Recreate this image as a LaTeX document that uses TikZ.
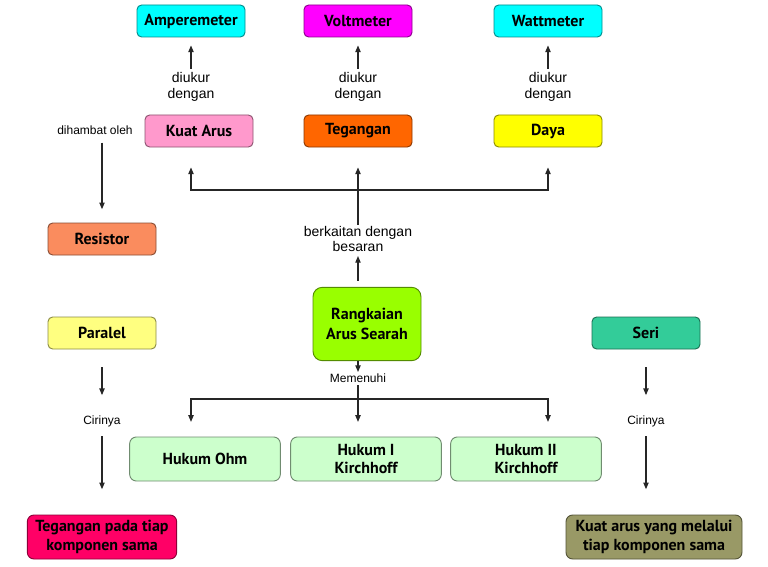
\documentclass[tikz,border=0pt]{standalone}
\usepackage{fontspec}
\setmainfont{Liberation Sans}
\newfontfamily\boxfont{PT Sans}
\usetikzlibrary{arrows.meta,positioning}
\definecolor{cyanbox}{HTML}{00FFFF}
\definecolor{magbox}{HTML}{FF00FF}
\definecolor{pinkbox}{HTML}{FF99CC}
\definecolor{orangebox}{HTML}{FF6600}
\definecolor{yellowbox}{HTML}{FFFF00}
\definecolor{resbox}{HTML}{FA8C5E}
\definecolor{parbox}{HTML}{FFFF80}
\definecolor{limebox}{HTML}{99FF00}
\definecolor{lawbox}{HTML}{CCFFCC}
\definecolor{seribox}{HTML}{33CC99}
\definecolor{crimsonbox}{HTML}{FF0066}
\definecolor{olivebox}{HTML}{999966}

\begin{document}
\begin{tikzpicture}[x=0.75pt,y=-0.75pt,
          every node/.style={font=\small},
          concept/.style={draw=#1!55!black,fill=#1,rounded corners=3.5pt,
                          line width=0.7pt,minimum width=81pt,minimum height=24pt,
                          inner sep=2pt,align=center,text=black,
                          font=\boxfont\bfseries\fontsize{12}{14}\selectfont},
          law/.style={minimum width=113pt,minimum height=33pt,rounded corners=5pt},
          lbl/.style={inner sep=0pt,align=center,font=\fontsize{10.5}{11.5}\selectfont},
          arr/.style={-{Triangle[length=5pt,width=4pt]},line width=0.8pt,black!85},
          link/.style={line width=0.8pt,black!85},
      ]
        \useasboundingbox[fill=white] (0,0) rectangle (768,567);

        % meters
        \node[concept=cyanbox] (amp) at (191,21) {Amperemeter};
        \node[concept=magbox] (volt) at (358,21) {Voltmeter};
        \node[concept=cyanbox] (watt) at (548,21) {Wattmeter};

        \node[lbl] (ukur1) at (191,87) {diukur\\dengan};
        \node[lbl] (ukur2) at (358,87) {diukur\\dengan};
        \node[lbl] (ukur3) at (548,87) {diukur\\dengan};

        % quantities
        \node[concept=pinkbox] (kuat) at (199,131) {Kuat Arus};
        \node[concept=orangebox] (tegangan) at (358,131) {Tegangan};
        \node[concept=yellowbox] (daya) at (548,131) {Daya};

        \draw[arr,shorten <=3pt,shorten >=6pt] (ukur1) -- (amp);
        \draw[arr,shorten <=3pt,shorten >=6pt] (ukur2) -- (volt);
        \draw[arr,shorten <=3pt,shorten >=6pt] (ukur3) -- (watt);

        % resistor
        \node[lbl,font=\fontsize{9}{11}\selectfont] (hambat) at (95,130) {dihambat oleh};
        \node[concept=resbox] (resistor) at (102,239) {Resistor};
        \draw[arr,shorten <=6pt,shorten >=10pt] (hambat.south -| resistor) -- (resistor.north);

        % main concept
        \node[concept=limebox,rounded corners=7pt,minimum height=55pt,
              font=\boxfont\bfseries\fontsize{12}{15}\selectfont] (dc) at (367,324)
          {Rangkaian\\Arus Searah};
        \node[lbl] (kait) at (358,239) {berkaitan dengan\\besaran};
        \draw[arr,shorten <=4.5pt,shorten >=3pt] (dc.north -| kait) -- (kait.south);
        \draw[arr,shorten <=1pt,shorten >=15pt] (kait.north) -- (tegangan.south);
        \coordinate (busup) at (358,190);
        \draw[arr,shorten >=15pt] (busup) -| (kuat.south -| amp);
        \draw[arr,shorten >=15pt] (busup) -| (daya.south);

        % laws
        \node[lbl,font=\fontsize{9}{11}\selectfont] (penuh) at (358,378) {Memenuhi};
        \draw[arr,shorten >=1pt] (dc.south -| penuh) -- (penuh.north);
        \node[concept=lawbox,law] (ohm) at (205,459) {Hukum Ohm};
        \node[concept=lawbox,law] (kir1) at (366,459) {Hukum I\\Kirchhoff};
        \node[concept=lawbox,law] (kir2) at (526,459) {Hukum II\\Kirchhoff};
        \coordinate (busdown) at (358,399);
        \draw[link,shorten <=2pt] (penuh.south) -- (busdown);
        \draw[arr,shorten >=11pt] (busdown) -| (ohm.north -| amp);
        \draw[arr,shorten >=11pt] (busdown) -- (kir1.north -| busdown);
        \draw[arr,shorten >=11pt] (busdown) -| (kir2.north -| watt);

        % parallel
        \node[concept=parbox] (paralel) at (102,333) {Paralel};
        \node[lbl,font=\fontsize{9}{11}\selectfont] (ciri1) at (102,421) {Cirinya};
        \node[concept=crimsonbox,law,minimum width=112pt] (ciriPar) at (102,537)
          {Tegangan pada tiap\\komponen sama};
        \draw[arr,shorten <=13.5pt,shorten >=15pt] (paralel.south) -- (ciri1.north);
        \draw[arr,shorten <=7pt,shorten >=19pt] (ciri1.south) -- (ciriPar.north);

        % series
        \node[concept=seribox] (seri) at (646,333) {Seri};
        \node[lbl,font=\fontsize{9}{11}\selectfont] (ciri2) at (646,421) {Cirinya};
        \node[concept=olivebox,law,minimum width=132pt] (ciriSeri) at (654,537)
          {Kuat arus yang melalui\\tiap komponen sama};
        \draw[arr,shorten <=13.5pt,shorten >=15pt] (seri.south) -- (ciri2.north);
        \draw[arr,shorten <=7pt,shorten >=19pt] (ciri2.south) -- (ciriSeri.north -| ciri2);
      \end{tikzpicture}
\end{document}
